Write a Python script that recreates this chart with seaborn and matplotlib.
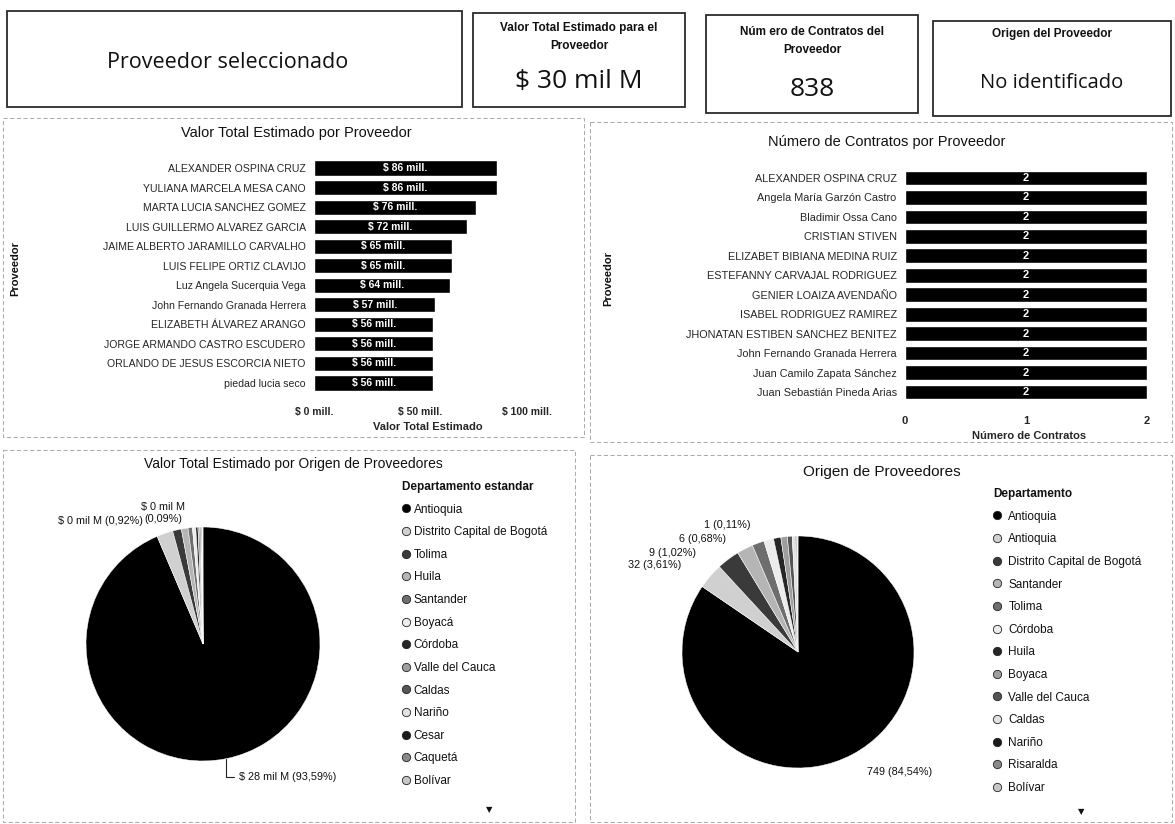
import matplotlib
matplotlib.use("Agg")
import matplotlib.pyplot as plt
import seaborn as sns
import numpy as np
import pandas as pd
from matplotlib.patches import Rectangle
from matplotlib.lines import Line2D

# ---------------- data ----------------
kpi_selected = "Proveedor seleccionado"
kpi_titles = ["Valor Total Estimado para el\nProveedor",
              "Núm ero de Contratos del\nProveedor",
              "Origen del Proveedor"]
kpi_values = ["$ 30 mil M", "838", "No identificado"]

proveedores_valor = ["ALEXANDER OSPINA CRUZ", "YULIANA MARCELA MESA CANO",
                     "MARTA LUCIA SANCHEZ GOMEZ", "LUIS GUILLERMO ALVAREZ GARCIA",
                     "JAIME ALBERTO JARAMILLO CARVALHO", "LUIS FELIPE ORTIZ CLAVIJO",
                     "Luz Angela Sucerquia Vega", "John Fernando Granada Herrera",
                     "ELIZABETH ÁLVAREZ ARANGO", "JORGE ARMANDO CASTRO ESCUDERO",
                     "ORLANDO DE JESUS ESCORCIA NIETO", "piedad lucia seco"]
valor_mill = [86, 86, 76, 72, 65, 65, 64, 57, 56, 56, 56, 56]
valor_ticks = [0, 50, 100]

proveedores_contratos = ["ALEXANDER OSPINA CRUZ", "Angela María Garzón Castro",
                         "Bladimir Ossa Cano", "CRISTIAN STIVEN",
                         "ELIZABET BIBIANA MEDINA RUIZ", "ESTEFANNY CARVAJAL RODRIGUEZ",
                         "GENIER LOAIZA AVENDAÑO", "ISABEL RODRIGUEZ RAMIREZ",
                         "JHONATAN ESTIBEN SANCHEZ BENITEZ", "John Fernando Granada Herrera",
                         "Juan Camilo Zapata Sánchez", "Juan Sebastián Pineda Arias"]
num_contratos = [2, 2, 2, 2, 2, 2, 2, 2, 2, 2, 2, 2]
contratos_ticks = [0, 1, 2]

deptos_valor = ["Antioquia", "Distrito Capital de Bogotá", "Tolima", "Huila",
                "Santander", "Boyacá", "Córdoba", "Valle del Cauca", "Caldas",
                "Nariño", "Cesar", "Caquetá", "Bolívar"]
valor_depto_milM = [28.0, 0.67, 0.36, 0.275, 0.18, 0.135, 0.09, 0.075,
                    0.045, 0.03, 0.027, 0.015, 0.015]
valor_labeled = [0, 3, 10]

deptos_origen = ["Antioquia", "Antioquia", "Distrito Capital de Bogotá", "Santander",
                 "Tolima", "Córdoba", "Huila", "Boyaca", "Valle del Cauca",
                 "Caldas", "Nariño", "Risaralda", "Bolívar"]
contratos_depto = [749, 32, 28, 20, 15, 12, 9, 8, 6, 4, 1, 1, 1]
origen_labeled = [0, 1, 6, 8, 10]

# ---------------- style ----------------
W, H = 1175, 824
sns.set_theme(style="white")
NARROW = ["Liberation Sans Narrow", "Liberation Sans", "DejaVu Sans"]
ARIAL = ["Liberation Sans", "DejaVu Sans"]
SEGOE = ["Open Sans", "DejaVu Sans"]
plt.rcParams["font.family"] = NARROW
plt.rcParams["text.color"] = "#111111"

slice_cols = ["#000000", "#d0d0d0", "#3a3a3a", "#b5b5b5", "#6e6e6e", "#ececec",
              "#262626", "#9e9e9e", "#555555", "#e2e2e2", "#1a1a1a", "#8a8a8a", "#c6c6c6"]

fig = plt.figure(figsize=(W / 100, H / 100), dpi=100)
fig.patch.set_facecolor("white")


def axes_px(x0, y0, x1, y1, **kw):
    return fig.add_axes([x0 / W, 1 - y1 / H, (x1 - x0) / W, (y1 - y0) / H], **kw)


def comma(v):
    return f"{v:.2f}".replace(".", ",")


# overlay for boxes / decorations
ov = axes_px(0, 0, W, H)
ov.set_xlim(0, W)
ov.set_ylim(H, 0)
ov.axis("off")
ov.set_zorder(-5)

# KPI boxes
boxes = [(7, 11, 462, 107), (473, 13, 685, 107), (706, 15, 918, 113), (933, 21, 1171, 116)]
for (x0, y0, x1, y1) in boxes:
    ov.add_patch(Rectangle((x0, y0), x1 - x0, y1 - y0, fill=False, ec="#2b2b2b", lw=1.3))
ov.text(228, 62, kpi_selected, ha="center", va="center", fontsize=15.5, family=SEGOE)
kpi_cx = [579, 812, 1052]
kpi_title_y = [37, 41, 34]
kpi_val_y = [81, 89, 83]
kpi_val_size = [19, 19, 14.5]
for i in range(3):
    ov.text(kpi_cx[i], kpi_title_y[i], kpi_titles[i], ha="center", va="center",
            fontsize=8.5, fontweight="bold", linespacing=1.7)
    ov.text(kpi_cx[i], kpi_val_y[i], kpi_values[i], ha="center", va="center",
            fontsize=kpi_val_size[i], family=SEGOE)

# dashed panel borders (scan look)
for (x0, y0, x1, y1) in [(3, 118, 584, 437), (590, 122, 1172, 442),
                         (3, 450, 575, 822), (590, 455, 1172, 822)]:
    ov.add_patch(Rectangle((x0, y0), x1 - x0, y1 - y0, fill=False, ec="#9a9a9a",
                           lw=0.6, ls=(0, (5, 3))))

# ---------------- bar chart 1 ----------------
ax1 = axes_px(314, 158.2, 527, 392.8)
df1 = pd.DataFrame({"Proveedor": proveedores_valor, "Valor": valor_mill})
sns.barplot(data=df1, x="Valor", y="Proveedor", color="black", saturation=1,
            width=0.77, ax=ax1)
ax1.set_xlim(0, 100)
ax1.bar_label(ax1.containers[0], labels=[f"$ {v} mill." for v in valor_mill],
              label_type="center", color="white", fontsize=7.5, fontweight="bold")
ax1.set_xticks(valor_ticks)
ax1.set_xticklabels([f"$ {t} mill." for t in valor_ticks], fontsize=7.5, fontweight="bold")
ax1.tick_params(axis="both", length=0)
ax1.tick_params(axis="y", pad=6, labelsize=7.6)
ax1.tick_params(axis="x", pad=10)
ax1.set_ylabel("")
ax1.set_xlabel("Valor Total Estimado", fontsize=8, fontweight="bold")
ax1.xaxis.set_label_coords((428 - 314) / 213, (392.8 - 427) / 234.6)
ax1.xaxis.label.set_va("center")
sns.despine(ax=ax1, left=True, bottom=True)
ov.text(296, 133, "Valor Total Estimado por Proveedor", ha="center", va="center",
        fontsize=10.5, family=ARIAL)
ov.text(15, 268, "Proveedor", rotation=90, ha="center", va="center",
        fontsize=8, fontweight="bold")

# ---------------- bar chart 2 ----------------
ax2 = axes_px(905, 168.3, 1147, 401.7)
df2 = pd.DataFrame({"Proveedor": proveedores_contratos, "Contratos": num_contratos})
sns.barplot(data=df2, x="Contratos", y="Proveedor", color="black", saturation=1,
            width=0.76, ax=ax2)
ax2.set_xlim(0, 2)
ax2.bar_label(ax2.containers[0], labels=[str(v) for v in num_contratos],
              label_type="center", color="white", fontsize=8, fontweight="bold")
ax2.set_xticks(contratos_ticks)
ax2.set_xticklabels([str(t) for t in contratos_ticks], fontsize=8, fontweight="bold")
ax2.tick_params(axis="both", length=0)
ax2.tick_params(axis="y", pad=6, labelsize=7.8)
ax2.tick_params(axis="x", pad=10)
ax2.set_ylabel("")
ax2.set_xlabel("Número de Contratos", fontsize=8, fontweight="bold")
ax2.xaxis.set_label_coords((1029 - 905) / 242, (401.7 - 436) / 233.4)
ax2.xaxis.label.set_va("center")
sns.despine(ax=ax2, left=True, bottom=True)
ov.text(887, 142, "Número de Contratos por Proveedor", ha="center", va="center",
        fontsize=10.5, family=ARIAL)
ov.text(608, 278, "Proveedor", rotation=90, ha="center", va="center",
        fontsize=8, fontweight="bold")

# ---------------- pie 1 ----------------
cx1, cy1, r1 = 203, 644, 117
ax3 = axes_px(cx1 - r1, cy1 - r1, cx1 + r1, cy1 + r1)
w3, _ = ax3.pie(valor_depto_milM, colors=slice_cols, startangle=90, counterclock=False,
                wedgeprops=dict(edgecolor="white", linewidth=0.35))
ax3.set_xlim(-1, 1)
ax3.set_ylim(-1, 1)
ax3.set_aspect("equal")
tot1 = sum(valor_depto_milM)
pct1 = [100 * v / tot1 for v in valor_depto_milM]
# main slice label with elbow leader from wedge mid-angle
wd = w3[valor_labeled[0]]
ang = np.deg2rad((wd.theta1 + wd.theta2) / 2)
ax3.annotate(f"$ {valor_depto_milM[0]:.0f} mil M ({comma(pct1[0])}%)",
             xy=(np.cos(ang), np.sin(ang)), xytext=(239, H - 777),
             textcoords="figure pixels", ha="left", va="center", fontsize=7.8,
             annotation_clip=False,
             arrowprops=dict(arrowstyle="-", color="#222222", lw=0.8, shrinkA=1, shrinkB=0,
                             connectionstyle="angle,angleA=0,angleB=90,rad=0"))
i = valor_labeled[1]
ov.text(143, 521, f"$ {valor_depto_milM[i]:.0f} mil M ({comma(pct1[i])}%)",
        ha="right", va="center", fontsize=7.8)
i = valor_labeled[2]
ov.text(163, 513, f"$ {valor_depto_milM[i]:.0f} mil M\n({comma(pct1[i])}%)",
        ha="center", va="center", fontsize=7.8, linespacing=1.25)
ov.text(293, 464, "Valor Total Estimado por Origen de Proveedores", ha="center",
        va="center", fontsize=10, family=ARIAL)

handles1 = [Line2D([], [], marker="o", linestyle="", markersize=6, markerfacecolor=c,
                   markeredgecolor="#222222", markeredgewidth=0.6) for c in slice_cols]
leg1 = fig.legend(handles1, deptos_valor, loc="upper left",
                  bbox_to_anchor=(402 / W, 1 - 481 / H), frameon=False,
                  title="Departamento estandar", fontsize=8.5,
                  title_fontproperties={"weight": "bold", "size": 8.5},
                  alignment="left", handlelength=0.7, handletextpad=0.3,
                  labelspacing=0.9, borderpad=0, borderaxespad=0)
ov.text(489, 810, "▼", ha="center", va="center", fontsize=6, family="DejaVu Sans")

# ---------------- pie 2 ----------------
cx2, cy2, r2 = 798, 652, 116
ax4 = axes_px(cx2 - r2, cy2 - r2, cx2 + r2, cy2 + r2)
w4, _ = ax4.pie(contratos_depto, colors=slice_cols, startangle=90, counterclock=False,
                wedgeprops=dict(edgecolor="white", linewidth=0.35))
ax4.set_xlim(-1, 1)
ax4.set_ylim(-1, 1)
ax4.set_aspect("equal")
tot2 = sum(contratos_depto)
pct2 = [100 * v / tot2 for v in contratos_depto]
lab_pos = {0: (867, 772, "left"), 1: (681, 565, "right"), 6: (696, 553, "right"),
           8: (726, 539, "right"), 10: (750, 525, "right")}
for i in origen_labeled:
    x, y, ha = lab_pos[i]
    ov.text(x, y, f"{contratos_depto[i]} ({comma(pct2[i])}%)", ha=ha, va="center",
            fontsize=7.8)
ov.text(882, 472, "Origen de Proveedores", ha="center", va="center",
        fontsize=11, family=ARIAL)

handles2 = [Line2D([], [], marker="o", linestyle="", markersize=6, markerfacecolor=c,
                   markeredgecolor="#222222", markeredgewidth=0.6) for c in slice_cols]
leg2 = fig.legend(handles2, deptos_origen, loc="upper left",
                  bbox_to_anchor=(993 / W, 1 - 488 / H), frameon=False,
                  title="Departamento", fontsize=8.5,
                  title_fontproperties={"weight": "bold", "size": 8.5},
                  alignment="left", handlelength=0.7, handletextpad=0.6,
                  labelspacing=0.9, borderpad=0, borderaxespad=0)
ov.text(1081, 812, "▼", ha="center", va="center", fontsize=6, family="DejaVu Sans")

fig.savefig("out.png", dpi=100, facecolor="white")
